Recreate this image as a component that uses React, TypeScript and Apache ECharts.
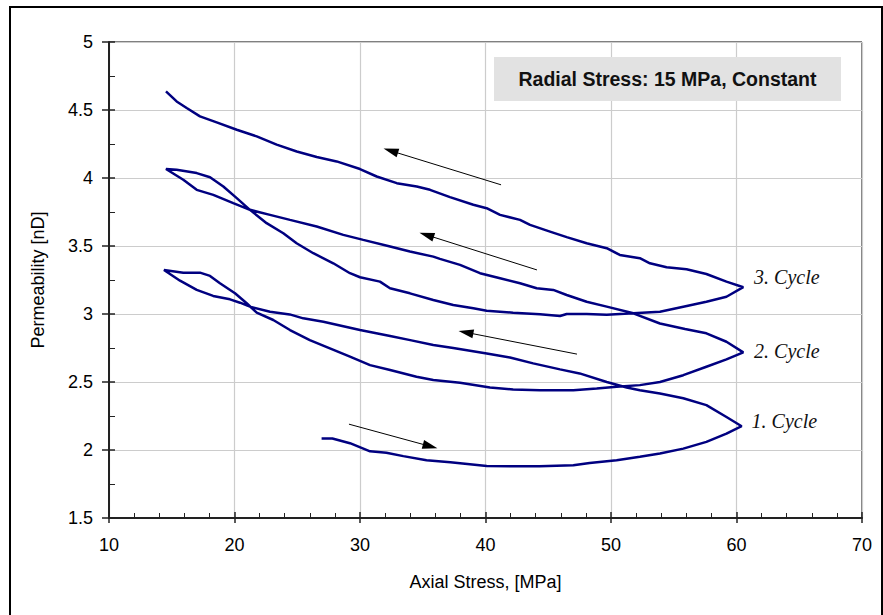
import React, { useEffect, useRef } from "react";
import * as echarts from "echarts";

// Axial stress [MPa], permeability [nD], in loading order
const cycle1Load: number[][] = [
  [26.94, 2.085], [27.8, 2.085], [29.2, 2.05], [30.8, 1.99], [32.1, 1.98], [33.45, 1.955],
  [35.3, 1.925], [37.2, 1.91], [40.1, 1.883], [42.3, 1.88], [44.3, 1.88], [47.0, 1.888],
  [48.3, 1.905], [50.45, 1.925], [52.3, 1.95], [53.9, 1.974], [55.76, 2.01], [57.6, 2.06],
  [59.2, 2.12], [60.41, 2.175],
];
const cycle1Unload: number[][] = [
  [59.2, 2.243], [57.6, 2.33], [55.76, 2.38], [53.9, 2.416], [52.3, 2.44], [51.25, 2.46],
  [49.66, 2.5], [47.5, 2.563], [45.94, 2.593], [43.8, 2.637], [41.95, 2.68], [40.1, 2.71],
  [37.43, 2.75], [35.84, 2.772], [34.0, 2.808], [32.4, 2.838], [30.0, 2.882], [28.67, 2.91],
  [27.08, 2.943], [25.48, 2.968], [24.4, 2.997], [22.83, 3.017], [21.23, 3.054], [20.44, 3.083],
  [19.64, 3.108], [18.3, 3.133], [16.99, 3.177], [15.66, 3.245], [14.38, 3.324],
];
const cycle2Load: number[][] = [
  [15.92, 3.304], [17.25, 3.304], [18.05, 3.28], [18.84, 3.226], [20.04, 3.153], [20.97, 3.079],
  [21.77, 3.01], [23.09, 2.956], [24.42, 2.882], [26.0, 2.808], [27.6, 2.747], [29.2, 2.686],
  [30.8, 2.624], [32.4, 2.588], [34.5, 2.538], [35.84, 2.514], [37.97, 2.494], [40.36, 2.46],
  [42.2, 2.445], [44.34, 2.44], [47.0, 2.44], [48.86, 2.453], [50.45, 2.465], [52.3, 2.477],
  [53.9, 2.5], [55.76, 2.55], [57.6, 2.612], [59.2, 2.666], [60.54, 2.718],
];
const cycle2Unload: number[][] = [
  [59.2, 2.796], [57.6, 2.858], [55.9, 2.89], [53.9, 2.93], [51.78, 3.005], [49.66, 3.054],
  [48.06, 3.09], [46.47, 3.14], [45.4, 3.177], [44.08, 3.189], [42.75, 3.226], [41.16, 3.263],
  [39.56, 3.3], [37.97, 3.361], [36.37, 3.405], [35.84, 3.422], [33.98, 3.459], [32.4, 3.496],
  [30.26, 3.545], [28.67, 3.582], [26.55, 3.643], [24.42, 3.692], [22.83, 3.729], [21.23, 3.766],
  [19.9, 3.815], [18.31, 3.876], [16.99, 3.913], [15.92, 3.987], [14.54, 4.066],
];
const cycle3Load: number[][] = [
  [15.39, 4.06], [16.99, 4.036], [18.05, 4.006], [19.11, 3.937], [20.18, 3.852], [21.23, 3.766],
  [22.56, 3.668], [23.89, 3.594], [24.95, 3.52], [26.28, 3.447], [27.87, 3.373], [29.2, 3.3],
  [30.0, 3.27], [31.59, 3.238], [32.39, 3.189], [33.98, 3.152], [35.84, 3.103], [37.43, 3.066],
  [39.03, 3.042], [40.09, 3.024], [42.2, 3.01], [44.34, 2.998], [45.94, 2.985], [46.47, 3.0],
  [48.06, 3.0], [49.66, 2.995], [51.78, 3.005], [53.9, 3.017], [55.76, 3.054], [57.6, 3.09],
  [59.2, 3.127], [60.54, 3.197],
];
const cycle3Unload: number[][] = [
  [59.2, 3.238], [57.6, 3.294], [56.02, 3.329], [54.43, 3.344], [53.1, 3.373], [52.3, 3.41],
  [50.7, 3.434], [49.66, 3.484], [48.06, 3.52], [46.47, 3.565], [45.14, 3.606], [43.55, 3.655],
  [42.75, 3.692], [41.16, 3.729], [40.09, 3.778], [39.03, 3.803], [37.17, 3.859], [35.58, 3.913],
  [34.52, 3.937], [32.93, 3.962], [31.33, 4.011], [30.0, 4.066], [28.14, 4.122], [26.55, 4.154],
  [24.96, 4.195], [23.36, 4.245], [21.77, 4.306], [20.18, 4.355], [18.58, 4.409], [17.25, 4.453],
  [16.19, 4.515], [15.39, 4.563], [14.54, 4.637],
];

// Cycle labels: [text, axial stress, permeability]
const cycleLabels: [string, number, number][] = [
  ["1. Cycle", 61.2, 2.212],
  ["2. Cycle", 61.4, 2.727],
  ["3. Cycle", 61.4, 3.272],
];

// Direction arrows: [fromX, fromY, toX, toY]
const arrows: number[][] = [
  [41.24, 3.95, 32.45, 4.2],
  [44.1, 3.324, 35.31, 3.581],
  [47.29, 2.705, 38.44, 2.865],
  [29.12, 2.19, 35.59, 2.027],
];

const xTicks = { min: 10, max: 70, interval: 10 };
const yTicks = { min: 1.5, max: 5, interval: 0.5 };
const infoText = "Radial Stress: 15 MPa, Constant";

const SANS = "'Liberation Sans', Arial, sans-serif";
const SERIF = "'Liberation Serif', 'Times New Roman', serif";

export default function App() {
  const ref = useRef<HTMLDivElement>(null);
  useEffect(() => {
    if (!ref.current) return;
    const chart = echarts.init(ref.current, undefined, { renderer: "svg" });
    const path = [
      ...cycle1Load,
      ...cycle1Unload,
      ...cycle2Load,
      ...cycle2Unload,
      ...cycle3Load,
      ...cycle3Unload,
    ];
    const option: any = {
      animation: false,
      backgroundColor: "#fff",
      grid: {
        left: 109,
        right: 21,
        top: 42,
        bottom: 97,
        show: true,
        borderColor: "#000",
        borderWidth: 1,
        containLabel: false,
        outerBoundsMode: "none",
      },
      xAxis: [
        {
          type: "value",
          ...xTicks,
          name: "Axial Stress, [MPa]",
          nameLocation: "middle",
          nameGap: 55,
          nameTextStyle: { fontFamily: SANS, fontSize: 18, color: "#000" },
          axisLine: { show: true, lineStyle: { color: "#222", width: 2 } },
          axisTick: { show: true, inside: false, length: 5, lineStyle: { color: "#222", width: 1.5 } },
          axisLabel: { fontFamily: SANS, fontSize: 18, color: "#000", margin: 18 },
          splitLine: { show: true, lineStyle: { color: "#cccccc", width: 1.2 } },
        },
        {
          type: "value",
          ...xTicks,
          position: "bottom",
          axisLine: { show: false },
          axisTick: { show: true, inside: true, length: 6, lineStyle: { color: "#222", width: 1.5 } },
          minorTick: { show: true, splitNumber: 5, length: 5, lineStyle: { color: "#222", width: 1 } },
          axisLabel: { show: false },
          splitLine: { show: false },
        },
      ],
      yAxis: [
        {
          type: "value",
          ...yTicks,
          name: "Permeability [nD]",
          nameLocation: "middle",
          nameGap: 62,
          nameTextStyle: { fontFamily: SANS, fontSize: 18, color: "#000" },
          axisLine: { show: true, lineStyle: { color: "#222", width: 2 } },
          axisTick: { show: true, inside: false, length: 7, lineStyle: { color: "#222", width: 1.5 } },
          axisLabel: { fontFamily: SANS, fontSize: 18, color: "#000", margin: 16 },
          splitLine: { show: true, lineStyle: { color: "#cccccc", width: 1.2 } },
        },
        {
          type: "value",
          ...yTicks,
          position: "left",
          axisLine: { show: false },
          axisTick: { show: true, inside: true, length: 6, lineStyle: { color: "#222", width: 1.5 } },
          minorTick: { show: true, splitNumber: 2, length: 6, lineStyle: { color: "#222", width: 1 } },
          axisLabel: { show: false },
          splitLine: { show: false },
        },
      ],
      series: [
        {
          type: "line",
          xAxisIndex: 0,
          yAxisIndex: 0,
          data: path,
          showSymbol: false,
          symbol: "none",
          smooth: false,
          lineStyle: { color: "#000080", width: 2.5 },
          silent: true,
          markLine: {
            silent: true,
            symbol: ["none", "triangle"],
            symbolSize: [9, 15],
            label: { show: false },
            lineStyle: { color: "#000", width: 1, type: "solid" },
            itemStyle: { color: "#000" },
            emphasis: { disabled: true },
            data: arrows.map((a) => [
              { coord: [a[0], a[1]] },
              { coord: [a[2], a[3]] },
            ]),
          },
          markPoint: {
            silent: true,
            symbol: "circle",
            symbolSize: 0,
            itemStyle: { color: "transparent" },
            label: {
              show: true,
              position: "right",
              distance: 0,
              formatter: (p: any) => p.name,
              fontFamily: SERIF,
              fontStyle: "italic",
              fontSize: 20,
              color: "#111",
            },
            data: cycleLabels.map((c) => ({ name: c[0], coord: [c[1], c[2]] })),
          },
        },
      ],
      graphic: [
        {
          type: "rect",
          shape: { x: 10, y: 7, width: 872, height: 700 },
          style: { fill: "none", stroke: "#000", lineWidth: 2 },
          silent: true,
          z: 100,
        },
        {
          type: "rect",
          shape: { x: 494, y: 57, width: 347, height: 44 },
          style: { fill: "#e2e2e2" },
          z: 90,
        },
        {
          type: "text",
          x: 667.5,
          y: 79,
          style: {
            text: infoText,
            fontFamily: SANS,
            fontWeight: "bold",
            fontSize: 19.5,
            fill: "#111",
            align: "center",
            verticalAlign: "middle",
          },
          z: 91,
        },
      ],
    };
    chart.setOption(option);
    return () => chart.dispose();
  }, []);
  return (
    <div
      ref={ref}
      style={{ position: "absolute", left: 0, top: 0, width: 883, height: 615, background: "#fff" }}
    />
  );
}
